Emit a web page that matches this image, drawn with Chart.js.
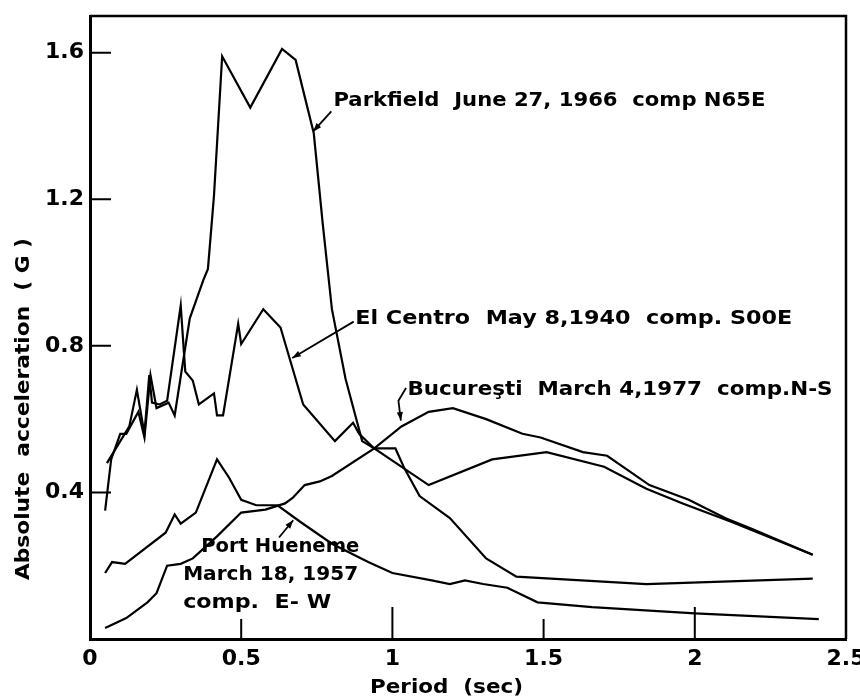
<!DOCTYPE html>
<html>
<head>
<meta charset="utf-8">
<title>Absolute acceleration spectra</title>
<script src="https://cdn.jsdelivr.net/npm/chart.js@4.4.1/dist/chart.umd.min.js"></script>
<style>
    body { margin: 0; background: #fff; }
    canvas { display: block; }
</style>
</head>
<body>
<canvas id="spectra" width="860" height="699"></canvas>
<script>
// period (sec) / absolute acceleration (G)
const parkfieldT = [0.05, 0.07, 0.10, 0.12, 0.16, 0.18, 0.20, 0.22, 0.26, 0.28, 0.33, 0.375, 0.39, 0.41, 0.437, 0.53, 0.635, 0.68, 0.71, 0.74, 0.77, 0.80, 0.845, 0.90, 0.94, 1.01, 1.04, 1.09, 1.19, 1.31, 1.41, 1.84, 2.39];
const parkfieldA = [0.35, 0.49, 0.56, 0.56, 0.62, 0.55, 0.72, 0.63, 0.645, 0.61, 0.875, 0.98, 1.01, 1.21, 1.59, 1.45, 1.61, 1.58, 1.48, 1.38, 1.13, 0.90, 0.71, 0.54, 0.52, 0.52, 0.465, 0.39, 0.33, 0.22, 0.17, 0.15, 0.165];

const elCentroT = [0.056, 0.13, 0.155, 0.18, 0.196, 0.205, 0.23, 0.255, 0.30, 0.315, 0.34, 0.36, 0.41, 0.42, 0.44, 0.49, 0.50, 0.573, 0.63, 0.705, 0.81, 0.87, 0.89, 0.94, 1.12, 1.33, 1.51, 1.70, 1.84, 1.96, 2.12, 2.39];
const elCentroA = [0.48, 0.58, 0.68, 0.56, 0.72, 0.645, 0.64, 0.65, 0.91, 0.73, 0.705, 0.64, 0.67, 0.61, 0.61, 0.86, 0.805, 0.90, 0.85, 0.64, 0.54, 0.59, 0.56, 0.52, 0.42, 0.49, 0.51, 0.47, 0.41, 0.37, 0.32, 0.23];

const bucurestiT = [0.05, 0.12, 0.19, 0.22, 0.255, 0.30, 0.34, 0.42, 0.50, 0.58, 0.645, 0.67, 0.71, 0.76, 0.80, 0.94, 1.03, 1.12, 1.20, 1.31, 1.43, 1.49, 1.63, 1.71, 1.85, 1.98, 2.10, 2.19, 2.39];
const bucurestiA = [0.03, 0.057, 0.10, 0.125, 0.20, 0.205, 0.22, 0.28, 0.345, 0.353, 0.37, 0.385, 0.42, 0.43, 0.445, 0.52, 0.58, 0.62, 0.63, 0.60, 0.56, 0.55, 0.51, 0.50, 0.42, 0.38, 0.33, 0.30, 0.23];

const hueneneT = [0.05, 0.073, 0.116, 0.25, 0.28, 0.30, 0.35, 0.42, 0.46, 0.50, 0.55, 0.62, 0.695, 0.80, 0.92, 1.0, 1.13, 1.19, 1.24, 1.30, 1.38, 1.48, 1.66, 2.0, 2.41];
const hueneneA = [0.18, 0.21, 0.205, 0.29, 0.34, 0.315, 0.345, 0.49, 0.44, 0.38, 0.365, 0.365, 0.32, 0.26, 0.21, 0.18, 0.16, 0.15, 0.16, 0.15, 0.14, 0.10, 0.087, 0.07, 0.054];

const xTicks = [0, 0.5, 1, 1.5, 2, 2.5];
const xTickLabels = ['0', '0.5', '1', '1.5', '2', '2.5'];
const yTicks = [0.4, 0.8, 1.2, 1.6];
const yTickLabels = ['0.4', '0.8', '1.2', '1.6'];

const FONT = '"DejaVu Sans", sans-serif';

function pts(ts, as) {
    return ts.map((t, i) => ({ x: t, y: as[i] }));
}

// text callouts, anchored in data units, with leader lines to the curves
const notes = [
    { lines: ['Parkfield  June 27, 1966  comp N65E'], x: 0.805, y: 1.467, w: 432, arrow: [[0.798, 1.44], [0.738, 1.385]] },
    { lines: ['El Centro  May 8,1940  comp. S00E'], x: 0.877, y: 0.873, w: 437, arrow: [[0.872, 0.866], [0.669, 0.767]] },
    { lines: ['Bucureşti  March 4,1977  comp.N-S'], x: 1.05, y: 0.678, w: 425, arrow: [[1.045, 0.685], [1.02, 0.65], [1.028, 0.596]] },
    { lines: ['Port Hueneme', 'March 18, 1957', 'comp.  E- W'], x: 0.308, y: 0.25, w: [158, 175, 148], dx: [0.06, 0, 0], arrow: [[0.625, 0.277], [0.672, 0.324]] }
];

// draw text squeezed or stretched to a given width
function fitText(ctx, text, px, py, w) {
    const m = ctx.measureText(text).width;
    ctx.save();
    ctx.translate(px, py);
    ctx.scale(w / m, 1);
    ctx.fillText(text, 0, 0);
    ctx.restore();
}

const figurePlugin = {
    id: 'figure',
    afterDraw(chart) {
        const { ctx, chartArea: a, scales: { x, y } } = chart;
        ctx.save();
        ctx.strokeStyle = '#000';
        ctx.fillStyle = '#000';

        // top and right frame
        ctx.lineWidth = 2.5;
        ctx.beginPath();
        ctx.moveTo(a.left, a.top);
        ctx.lineTo(a.right, a.top);
        ctx.lineTo(a.right, a.bottom);
        ctx.stroke();

        // inward ticks
        ctx.lineWidth = 2;
        ctx.beginPath();
        xTicks.forEach(v => {
            if (v === 0 || v === 2.5) return;
            const px = x.getPixelForValue(v);
            const len = Number.isInteger(v) ? 32 : 20;
            ctx.moveTo(px, a.bottom);
            ctx.lineTo(px, a.bottom - len);
        });
        yTicks.forEach(v => {
            const py = y.getPixelForValue(v);
            ctx.moveTo(a.left, py);
            ctx.lineTo(a.left + 21, py);
        });
        ctx.stroke();

        // callouts
        ctx.font = 'bold 19px ' + FONT;
        ctx.textBaseline = 'middle';
        ctx.textAlign = 'left';
        notes.forEach(n => {
            n.lines.forEach((line, i) => {
                const px = x.getPixelForValue(n.x + (n.dx ? n.dx[i] : 0));
                const py = y.getPixelForValue(n.y) + i * 28;
                const w = Array.isArray(n.w) ? n.w[i] : n.w;
                fitText(ctx, line, px, py, w);
            });
            const p = n.arrow.map(([vx, vy]) => [x.getPixelForValue(vx), y.getPixelForValue(vy)]);
            ctx.lineWidth = 1.8;
            ctx.beginPath();
            ctx.moveTo(p[0][0], p[0][1]);
            p.slice(1).forEach(q => ctx.lineTo(q[0], q[1]));
            ctx.stroke();
            const [ex, ey] = p[p.length - 1];
            const [sx, sy] = p[p.length - 2];
            const ang = Math.atan2(ey - sy, ex - sx);
            ctx.beginPath();
            ctx.moveTo(ex, ey);
            ctx.lineTo(ex - 9 * Math.cos(ang - 0.35), ey - 9 * Math.sin(ang - 0.35));
            ctx.lineTo(ex - 9 * Math.cos(ang + 0.35), ey - 9 * Math.sin(ang + 0.35));
            ctx.closePath();
            ctx.fill();
        });

        // axis titles
        ctx.font = 'bold 20px ' + FONT;
        fitText(ctx, 'Period  (sec)', 370, 688, 153);
        ctx.translate(24, 580);
        ctx.rotate(-Math.PI / 2);
        fitText(ctx, 'Absolute  acceleration  ( G )', 0, 0, 342);
        ctx.restore();
    }
};

const ctx = document.getElementById('spectra').getContext('2d');
const spectraChart = new Chart(ctx, {
    type: 'line',
    data: {
        datasets: [
            { label: 'Parkfield June 27, 1966 comp N65E', data: pts(parkfieldT, parkfieldA) },
            { label: 'El Centro May 8, 1940 comp. S00E', data: pts(elCentroT, elCentroA) },
            { label: 'Bucureşti March 4, 1977 comp. N-S', data: pts(bucurestiT, bucurestiA) },
            { label: 'Port Hueneme March 18, 1957 comp. E-W', data: pts(hueneneT, hueneneA) }
        ]
    },
    options: {
        responsive: false,
        animation: false,
        layout: { padding: { top: 16, right: 14, left: 0, bottom: 0 } },
        elements: {
            point: { radius: 0 },
            line: { tension: 0, borderWidth: 2.2, borderColor: '#000', fill: false }
        },
        plugins: {
            legend: { display: false },
            tooltip: { enabled: false }
        },
        scales: {
            x: {
                type: 'linear',
                min: 0,
                max: 2.5,
                afterBuildTicks: s => { s.ticks = xTicks.map(v => ({ value: v })); },
                afterFit: s => { s.height = 60; s.paddingLeft = 0; s.paddingRight = 0; },
                ticks: {
                    color: '#000',
                    padding: 7,
                    maxRotation: 0,
                    autoSkip: false,
                    font: { family: FONT, size: 22, weight: 'bold' },
                    callback: (v, i) => xTickLabels[i]
                },
                grid: { display: false, drawTicks: false },
                border: { color: '#000', width: 3 }
            },
            y: {
                min: 0,
                max: 1.7,
                afterBuildTicks: s => { s.ticks = yTicks.map(v => ({ value: v })); },
                afterFit: s => { s.width = 90; s.paddingTop = 0; s.paddingBottom = 0; },
                ticks: {
                    color: '#000',
                    padding: 6,
                    autoSkip: false,
                    font: { family: FONT, size: 22, weight: 'bold' },
                    callback: (v, i) => yTickLabels[i]
                },
                grid: { display: false, drawTicks: false },
                border: { color: '#000', width: 3 }
            }
        }
    },
    plugins: [figurePlugin]
});
</script>
</body>
</html>
